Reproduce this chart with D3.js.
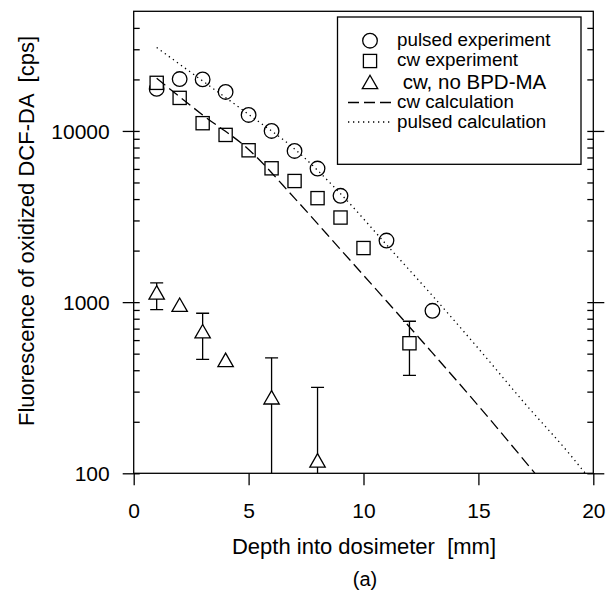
<!DOCTYPE html>
<html><head><meta charset="utf-8">
<script src="https://cdn.jsdelivr.net/npm/d3@7"></script>
<style>
body{margin:0;background:#fff}
svg{display:block}
text{font-family:"Liberation Sans",Arial,Helvetica,sans-serif;fill:#000}
</style>
</head><body>
<svg id="c" width="607" height="594"></svg>
<script>
// ---- data ----
const xTicks = [0, 5, 10, 15, 20];
const yTicks = [100, 1000, 10000];
const yMinorTicks = [200,300,400,500,600,700,800,900,2000,3000,4000,5000,6000,7000,8000,9000,20000,30000,40000];

const pulsedX = [1, 2, 3, 4, 5, 6, 7, 8, 9, 11, 13];
const pulsedY = [17600, 20100, 20000, 16900, 12400, 10000, 7640, 6030, 4180, 2290, 890];

const cwX = [1, 2, 3, 4, 5, 6, 7, 8, 9, 10, 12];
const cwY = [19100, 15600, 11100, 9480, 7710, 6050, 5100, 4050, 3120, 2070, 575];
const cwErrLow  = [null, null, null, null, null, null, null, null, null, null, 373];
const cwErrHigh = [null, null, null, null, null, null, null, null, null, null, 773];

const noBpdX = [1, 2, 3, 4, 6, 8];
const noBpdY = [1140, 966, 676, 460, 278, 119];
const noBpdErrLow  = [904, null, 463, null, 60, 60];
const noBpdErrHigh = [1295, null, 861, null, 473, 318];

const cwCalcX = [1, 3, 5, 7, 9, 11, 13, 15, 17.46];
const cwCalcY = [20300, 12400, 7800, 4050, 2030, 1015, 505, 248, 100];

const pulsedCalcX = [1, 3, 5, 7, 9, 11, 13, 15, 17, 19, 19.65];
const pulsedCalcY = [30700, 19600, 12500, 7850, 4300, 2165, 1090, 536, 258, 128, 100];

const legendLabels = ["pulsed experiment", "cw experiment", " cw, no BPD-MA", "cw calculation", "pulsed calculation"];

// ---- chart ----
const svg = d3.select("#c");
const x = d3.scaleLinear().domain([0, 20]).range([133.7, 593.3]);
const y = d3.scaleLog().domain([100, 50000]).range([473.3, 11.3]);
const L = x.range()[0], R = x.range()[1], B = y.range()[0], T = y.range()[1];
const SW = 1.3;

svg.append("defs").append("clipPath").attr("id","clip")
  .append("rect").attr("x",L).attr("y",T).attr("width",R-L).attr("height",B-T);

// axes
const gL = svg.append("g").attr("transform",`translate(${L},0)`)
  .call(d3.axisLeft(y).tickValues(yTicks).tickFormat(d3.format("d")).tickSizeInner(11).tickSizeOuter(0).tickPadding(13));
const gLi = svg.append("g").attr("transform",`translate(${L},0)`)
  .call(d3.axisRight(y).tickValues(yTicks.concat(yMinorTicks)).tickFormat("").tickSizeInner(6).tickSizeOuter(0));
const gR = svg.append("g").attr("transform",`translate(${R},0)`)
  .call(d3.axisLeft(y).tickValues(yTicks.concat(yMinorTicks)).tickFormat("").tickSizeInner(6).tickSizeOuter(0));
const gRo = svg.append("g").attr("transform",`translate(${R},0)`)
  .call(d3.axisRight(y).tickValues(yTicks).tickFormat("").tickSizeInner(11).tickSizeOuter(0));
const gB = svg.append("g").attr("transform",`translate(0,${B})`)
  .call(d3.axisBottom(x).tickValues(xTicks).tickSizeInner(12).tickSizeOuter(0).tickPadding(18));
[gL,gLi,gR,gRo,gB].forEach(g=>{
  g.select(".domain").remove();
  g.selectAll(".tick line").attr("stroke","#000").attr("stroke-width",SW);
  g.selectAll(".tick text").attr("font-size",21).attr("font-family","'Liberation Sans',Arial,sans-serif");
});
gL.selectAll(".tick text").attr("dy","0.36em");

// frame
svg.append("rect").attr("x",L).attr("y",T).attr("width",R-L).attr("height",B-T)
  .attr("fill","none").attr("stroke","#000").attr("stroke-width",SW);

const plot = svg.append("g").attr("clip-path","url(#clip)");

// error bars
function errBars(xs, lo, hi){
  xs.forEach((xv,i)=>{
    if(lo[i]==null) return;
    const cx = x(xv), y1 = y(lo[i]), y2 = y(hi[i]);
    plot.append("line").attr("x1",cx).attr("x2",cx).attr("y1",y1).attr("y2",y2)
      .attr("stroke","#000").attr("stroke-width",SW);
    [y1,y2].forEach(yy=>plot.append("line").attr("x1",cx-6.5).attr("x2",cx+6.5).attr("y1",yy).attr("y2",yy)
      .attr("stroke","#000").attr("stroke-width",SW));
  });
}
errBars(cwX, cwErrLow, cwErrHigh);
errBars(noBpdX, noBpdErrLow, noBpdErrHigh);

const tri = "M0,-6.7L7.7,6.7L-7.7,6.7Z";

// markers
plot.selectAll(".circ").data(pulsedX.map((d,i)=>[d,pulsedY[i]])).join("circle")
  .attr("cx",d=>x(d[0])).attr("cy",d=>y(d[1])).attr("r",7.3)
  .attr("fill","#fff").attr("stroke","#000").attr("stroke-width",SW);
plot.selectAll(".sq").data(cwX.map((d,i)=>[d,cwY[i]])).join("rect")
  .attr("x",d=>x(d[0])-6.6).attr("y",d=>y(d[1])-6.6).attr("width",13.2).attr("height",13.2)
  .attr("fill","#fff").attr("stroke","#000").attr("stroke-width",SW);
plot.selectAll(".tri").data(noBpdX.map((d,i)=>[d,noBpdY[i]])).join("path")
  .attr("d",tri).attr("transform",d=>`translate(${x(d[0])},${y(d[1])})`)
  .attr("fill","#fff").attr("stroke","#000").attr("stroke-width",SW);

// calculation lines
const line = d3.line().x(d=>x(d[0])).y(d=>y(d[1])).curve(d3.curveMonotoneX);
plot.append("path").datum(cwCalcX.map((d,i)=>[d,cwCalcY[i]])).attr("d",line)
  .attr("fill","none").attr("stroke","#000").attr("stroke-width",1.3).attr("stroke-dasharray","11,5");
plot.append("path").datum(pulsedCalcX.map((d,i)=>[d,pulsedCalcY[i]])).attr("d",line)
  .attr("fill","none").attr("stroke","#000").attr("stroke-width",1.3).attr("stroke-dasharray","1.3,3.7");

// legend
const lg = svg.append("g");
lg.append("rect").attr("x",337.5).attr("y",17).attr("width",243.5).attr("height",147.3)
  .attr("fill","#fff").attr("stroke","#000").attr("stroke-width",SW);
const sx = 370;
lg.append("circle").attr("cx",sx).attr("cy",40.7).attr("r",7.3).attr("fill","none").attr("stroke","#000").attr("stroke-width",SW);
lg.append("rect").attr("x",sx-6.6).attr("y",61-6.6).attr("width",13.2).attr("height",13.2).attr("fill","none").attr("stroke","#000").attr("stroke-width",SW);
lg.append("path").attr("d",tri).attr("transform",`translate(${sx},82)`).attr("fill","none").attr("stroke","#000").attr("stroke-width",SW);
lg.append("line").attr("x1",348).attr("x2",392).attr("y1",102.5).attr("y2",102.5).attr("stroke","#000").attr("stroke-width",1.3).attr("stroke-dasharray","11,5");
lg.append("line").attr("x1",348).attr("x2",392).attr("y1",122).attr("y2",122).attr("stroke","#000").attr("stroke-width",1.3).attr("stroke-dasharray","1.3,3.7");
const baselines = [46, 65.5, 88.5, 108, 128];
const sizes = [18.8, 18.8, 20.5, 18.8, 18.8];
legendLabels.forEach((t,i)=>{
  lg.append("text").attr("x",397).attr("y",baselines[i]).attr("font-size",sizes[i])
    .attr("xml:space","preserve").style("white-space","pre").text(t);
});

// titles
svg.append("text").attr("x",364).attr("y",554).attr("text-anchor","middle").attr("font-size",22)
  .style("white-space","pre").text("Depth into dosimeter  [mm]");
svg.append("text").attr("x",365).attr("y",586).attr("text-anchor","middle").attr("font-size",20).text("(a)");
svg.append("text").attr("transform","translate(34,231) rotate(-90)").attr("text-anchor","middle").attr("font-size",22)
  .style("white-space","pre").text("Fluorescence of oxidized DCF-DA  [cps]");
</script>
</body></html>
